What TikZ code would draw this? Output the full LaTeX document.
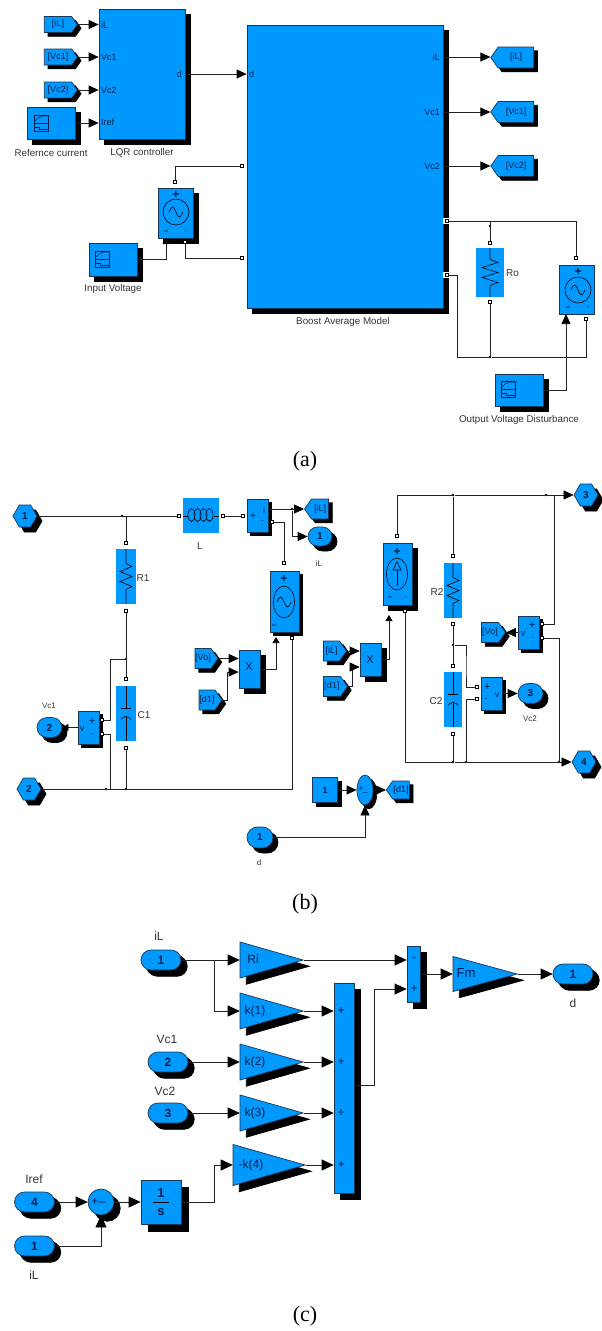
\documentclass[tikz,border=0pt]{standalone}
\usepackage{fontspec}
\setmainfont{Liberation Sans}
\newfontfamily\capfont{Liberation Serif}
\usetikzlibrary{arrows.meta,shapes.geometric,shapes.misc,shapes.symbols}
\definecolor{simblue}{RGB}{0,153,255}
\definecolor{simtext}{RGB}{0,30,70}
\definecolor{simedge}{RGB}{25,55,85}
\definecolor{simwire}{RGB}{35,35,35}
\tikzset{
  offset/.style={preaction={draw=black,fill=black,transform canvas={xshift=1.25*#1pt,yshift=-1.25*#1pt}}},
  blockbox/.style={draw=simedge,line width=.7pt,fill=simblue,inner sep=0pt,text=simtext,font=\fontsize{9}{10}\selectfont},
  plainbox/.style={fill=simblue,inner sep=0pt},
  tagright/.style={blockbox,signal,signal to=east,signal pointer angle=110,offset=3},
  tagleft/.style={blockbox,signal,signal to=west,signal pointer angle=110,offset=3},
  hexport/.style={blockbox,signal,signal to=east and west,signal pointer angle=120,minimum width=24,minimum height=22,offset=4,font=\fontsize{10}{11}\selectfont\bfseries},
  roundport/.style={blockbox,rounded rectangle,offset=4,font=\fontsize{10}{11}\selectfont\bfseries},
  bigport/.style={roundport,minimum width=40,minimum height=20,offset=5,font=\fontsize{12}{13}\selectfont\bfseries},
  gainbox/.style={blockbox,isosceles triangle,isosceles triangle stretches,anchor=apex,offset=5},
  portbox/.style={draw=black,fill=white,line width=.6pt,minimum size=3pt,inner sep=0pt},
  gapbox/.style={fill=white,minimum size=6pt,inner sep=0pt},
  dotnode/.style={circle,fill=black,minimum size=2.6pt,inner sep=0pt},
  blocktext/.style={inner sep=0pt,text=simtext,font=\fontsize{9}{10}\selectfont},
  signtext/.style={inner sep=0pt,text=simtext,font=\fontsize{11}{12}\selectfont},
  tinytext/.style={inner sep=0pt,text=simtext,font=\fontsize{4}{4}\selectfont},
  bigtext/.style={inner sep=0pt,text=simtext,font=\fontsize{12}{13}\selectfont},
  nametext/.style={inner sep=0pt,text=black!80,font=\fontsize{9.8}{11}\selectfont},
  smallname/.style={inner sep=0pt,text=black!80,font=\fontsize{8}{9}\selectfont},
  sidetext/.style={inner sep=0pt,text=black!80,font=\fontsize{10}{12}\selectfont},
  largename/.style={inner sep=0pt,text=black!80,font=\fontsize{12}{13}\selectfont},
  captext/.style={inner sep=0pt,font=\fontsize{22}{24}\capfont},
  wire/.style={draw=simwire,line width=.7pt},
  icon/.style={draw=black,line width=.6pt},
  smalltip/.style={-{Triangle[length=6pt,width=7pt,black]}},
  bigtip/.style={-{Triangle[length=12pt,width=11pt,black]}}
}
\begin{document}
\begin{tikzpicture}[x=1pt,y=-1pt,>={Triangle[length=10pt,width=9pt,black]}]
  \useasboundingbox (0,0) rectangle (602,1331);

  % (a) average model
  \node[tagright,minimum width=33,minimum height=16] (fromil) at (58,24.5) {[iL]};
  \node[tagright,minimum width=33,minimum height=16] (fromvca) at (58,57) {[Vc1]};
  \node[tagright,minimum width=33,minimum height=16] (fromvcb) at (58,90) {[Vc2]};
  \node[blockbox,offset=4,minimum width=48,minimum height=32] (refcur) at (51,123) {};
  \node[blockbox,offset=4,minimum width=86,minimum height=130] (lqr) at (142,74) {};
  \node[blockbox,offset=4,minimum width=196,minimum height=283] (boost) at (345,166.5) {};
  \node[blockbox,offset=4,minimum width=35,minimum height=50] (vin) at (175.5,213) {};
  \node[blockbox,offset=4,minimum width=48,minimum height=33] (inputv) at (113,259.5) {};
  \node[tagleft,minimum width=43,minimum height=21] (gotoil) at (516,57.5) {[iL]};
  \node[tagleft,minimum width=43,minimum height=21] (gotovca) at (516,112) {[Vc1]};
  \node[tagleft,minimum width=43,minimum height=21] (gotovcb) at (516,166) {[Vc2]};
  \node[plainbox,minimum width=28,minimum height=49] (ro) at (490,272.5) {};
  \node[blockbox,minimum width=35,minimum height=49] (vout) at (576.5,289.5) {};
  \node[blockbox,offset=4,minimum width=48,minimum height=32] (outdist) at (519,390) {};

  \node[blocktext,right] (lqril) at (101,25) {iL};
  \node[blocktext,right] (lqrvca) at (101,57) {Vc1};
  \node[blocktext,right] (lqrvcb) at (101,90) {Vc2};
  \node[blocktext,right] (lqrref) at (101,122) {Iref};
  \node[blocktext,left] (lqrd) at (182,74) {d};
  \node[blocktext,right] (boostd) at (249,74) {d};
  \node[blocktext,left] (boostil) at (440,57) {iL};
  \node[blocktext,left] (boostvca) at (440,112) {Vc1};
  \node[blocktext,left] (boostvcb) at (440,166) {Vc2};
  \node[nametext] (namecur) at (51,153) {Refernce current};
  \node[nametext] (namelqr) at (142,153) {LQR controller};
  \node[nametext] (namevin) at (113,289) {Input Voltage};
  \node[nametext] (nameboost) at (343,322) {Boost Average Model};
  \node[nametext] (namedist) at (519,420) {Output Voltage Disturbance};
  \node[sidetext,right] (namero) at (506,273) {Ro};
  \node[captext] (capa) at (305,461) {(a)};

  \node[gapbox] (gapa) at (446,221) {};
  \node[gapbox] (gapb) at (446,275) {};
  \node[portbox] (bpa) at (242,166) {};
  \node[portbox] (bpb) at (242,258) {};
  \node[portbox] (bpc) at (447,221) {};
  \node[portbox] (bpd) at (447,275) {};
  \node[portbox] (vintop) at (175,182) {};
  \node[portbox] (vinbot) at (185,242) {};
  \node[portbox] (votop) at (576,258) {};
  \node[portbox] (vobot) at (586,319) {};
  \node[portbox] (rotop) at (490,243) {};
  \node[portbox] (robot) at (490,302) {};
  \node[dotnode] (dotro) at (490,226) {};
  \node[dotnode] (dotrb) at (490,357) {};
  \coordinate (vinctl) at (166,238);
  \coordinate (voctl) at (566,314);

  \draw[wire,->] (fromil.east) -- (fromil.east -| lqr.west);
  \draw[wire,->] (fromvca.east) -- (fromvca.east -| lqr.west);
  \draw[wire,->] (fromvcb.east) -- (fromvcb.east -| lqr.west);
  \draw[wire,->] (refcur.east) -- (refcur.east -| lqr.west);
  \draw[wire,->] (lqr.east) -- (boost.west |- lqr.east);
  \draw[wire,smalltip] (inputv.east) -| (vinctl);
  \draw[wire] (vintop) |- (bpa);
  \draw[wire] (vinbot) |- (bpb);
  \draw[wire,->] (boostil.east -| boost.east) -- (boostil.east -| gotoil.west);
  \draw[wire,->] (boostvca.east -| boost.east) -- (boostvca.east -| gotovca.west);
  \draw[wire,->] (boostvcb.east -| boost.east) -- (boostvcb.east -| gotovcb.west);
  \draw[wire] (bpc) -| (votop);
  \draw[wire] (dotro |- bpc) -- (rotop);
  \draw[wire] (robot) -- (dotrb);
  \draw[wire] (bpd) -- ++(10,0) |- (dotrb);
  \draw[wire] (dotrb) -| (vobot);
  \draw[wire,->] (outdist.east) -| (voctl);

  % signal builder icons
  \foreach \ox/\oy in {34/115,95/251,501/381}{
    \begin{scope}[shift={(\ox,\oy)}]
      \draw[icon,draw=simtext] (0,0) rectangle (14,16);
      \draw[icon,draw=simtext] (0,8) -- (14,8);
      \draw[icon,draw=simtext] (0,7) -- (4,3) -- (9,1) -- (14,1);
      \draw[icon,draw=simtext] (0,12) -- (5,12) -- (5,14.5) -- (14,14.5);
    \end{scope}
  }

  % (b) converter circuit
  \node[hexport] (ina) at (25,516) {1};
  \node[hexport] (inb) at (29,789) {2};
  \node[plainbox,minimum width=36,minimum height=35] (ind) at (201,515.5) {};
  \node[plainbox,minimum width=20,minimum height=55] (ra) at (126,576.5) {};
  \node[plainbox,minimum width=20,minimum height=55] (ca) at (126,713.5) {};
  \node[blockbox,offset=3,minimum width=21,minimum height=33] (ammeter) at (257.5,515.5) {};
  \node[blockbox,offset=3,minimum width=21,minimum height=33] (vmetera) at (88.5,727.5) {};
  \node[roundport,minimum width=25,minimum height=20] (outvca) at (49.5,727.5) {2};
  \node[blockbox,offset=3,minimum width=29,minimum height=61] (vsrc) at (284.5,601.5) {};
  \node[blockbox,offset=4,minimum width=21,minimum height=38] (mula) at (249.5,669) {};
  \node[tagright,minimum width=23,minimum height=20] (fromvoa) at (203,658.5) {[Vo]};
  \node[tagright,minimum width=23,minimum height=20] (fromdb) at (207,700) {[d1]};
  \node[tagleft,minimum width=24,minimum height=20] (gotoilb) at (320,509) {[iL]};
  \node[roundport,minimum width=24,minimum height=19] (outil) at (320,536.5) {1};
  \node[blockbox,offset=4,minimum width=29,minimum height=62] (isrc) at (397.5,574) {};
  \node[plainbox,minimum width=18,minimum height=55] (rb) at (453,590.5) {};
  \node[plainbox,minimum width=18,minimum height=55] (cb) at (453,699.5) {};
  \node[blockbox,offset=4,minimum width=21,minimum height=33] (mulb) at (370.5,659.5) {};
  \node[tagright,minimum width=23,minimum height=20] (fromilb) at (331.5,651) {[iL]};
  \node[tagright,minimum width=24,minimum height=20] (fromdc) at (332,686.5) {[d1]};
  \node[blockbox,offset=3,minimum width=21,minimum height=33] (vmeterb) at (491.5,693.5) {};
  \node[roundport,minimum width=25,minimum height=20] (outvcb) at (530.5,693.5) {3};
  \node[blockbox,offset=3,minimum width=21,minimum height=33] (vmeterc) at (528.5,632.5) {};
  \node[tagright,minimum width=24,minimum height=20] (fromvob) at (490,632.5) {[Vo]};
  \node[hexport] (outc) at (586,495) {3};
  \node[hexport] (outd) at (584,762) {4};
  \node[blockbox,offset=3,minimum width=25,minimum height=25] (const) at (325,790) {\bfseries 1};
  \node[blockbox,ellipse,offset=3,minimum width=16,minimum height=30] (suma) at (365,790) {};
  \node[tagleft,minimum width=23,minimum height=18] (gotod) at (401,790) {[d1]};
  \node[roundport,minimum width=26,minimum height=21] (dport) at (260,837.5) {1};

  \node[signtext] (xa) at (249,667) {X};
  \node[signtext] (xb) at (370,660) {X};
  \node[blocktext] (avm) at (82,729) {v};
  \node[signtext] (apl) at (92,721) {+};
  \node[blocktext] (ami) at (92,735) {-};
  \node[signtext] (ampl) at (253,516) {+};
  \node[blocktext] (amc) at (264,510) {i};
  \node[blocktext] (ammi) at (262,522) {-};
  \node[signtext] (bpl) at (487,687) {+};
  \node[blocktext] (bmi) at (486,700) {-};
  \node[blocktext] (bvm) at (497,695) {v};
  \node[signtext] (cpl) at (532,625) {+};
  \node[blocktext] (cmi) at (533,639) {-};
  \node[blocktext] (cvm) at (523,634) {v};
  \node[blocktext] (spl) at (361,789) {+};
  \node[blocktext] (smi) at (365,792) {\_};
  \node[sidetext] (namera) at (143,578) {R1};
  \node[sidetext] (nameca) at (144,715) {C1};
  \node[sidetext] (namerb) at (437,592) {R2};
  \node[sidetext] (namecb) at (436,701) {C2};
  \node[sidetext] (nameind) at (200,546) {L};
  \node[smallname] (namevca) at (49,706) {Vc1};
  \node[smallname] (namevcb) at (530,719) {Vc2};
  \node[smallname] (nameil) at (319,564) {iL};
  \node[smallname] (named) at (259,863) {d};
  \node[captext] (capb) at (305,904) {(b)};

  \node[portbox] (indl) at (179,516) {};
  \node[portbox] (indr) at (223,516) {};
  \node[portbox] (ampin) at (243,516) {};
  \node[portbox] (ampout) at (272,522) {};
  \node[portbox] (vsrctop) at (284,563) {};
  \node[portbox] (vsrcbot) at (292,638) {};
  \node[portbox] (ratop) at (126,543) {};
  \node[portbox] (rabot) at (126,611) {};
  \node[portbox] (catop) at (126,679) {};
  \node[portbox] (cabot) at (126,748) {};
  \node[portbox] (vmaplus) at (102,720) {};
  \node[portbox] (vmaminus) at (102,734) {};
  \node[portbox] (isrctop) at (397,536) {};
  \node[portbox] (isrcbot) at (405,611) {};
  \node[portbox] (rbtop) at (453,556) {};
  \node[portbox] (rbbot) at (453,624) {};
  \node[portbox] (cbtop) at (453,666) {};
  \node[portbox] (cbbot) at (453,734) {};
  \node[portbox] (vmbplus) at (477,687) {};
  \node[portbox] (vmbminus) at (477,699) {};
  \node[portbox] (vmcplus) at (542,624) {};
  \node[portbox] (vmcminus) at (542,638) {};
  \node[dotnode] (dota) at (122,516) {};
  \node[dotnode] (dotb) at (126,659) {};
  \node[dotnode] (dotc) at (106,789) {};
  \node[dotnode] (dotd) at (126,789) {};
  \node[dotnode] (dote) at (292,509) {};
  \node[dotnode] (dotf) at (453,495) {};
  \node[dotnode] (dotg) at (546,495) {};
  \node[dotnode] (doth) at (453,645) {};
  \node[dotnode] (doti) at (453,762) {};
  \node[dotnode] (dotj) at (466,762) {};
  \node[dotnode] (dotk) at (559,762) {};
  \coordinate (vsrcctl) at (276,637);
  \coordinate (isrcctl) at (389,615);

  \draw[wire] (ina.east) -- (indl);
  \draw[wire] (ratop |- indl) -- (ratop);
  \draw[wire] (rabot) -- (catop);
  \draw[wire] (cabot) -- (dotd);
  \draw[wire] (dotb) -- ++(-16,0) |- (vmaplus);
  \draw[wire] (vmaminus) -- ++(8,0) |- (dotd);
  \draw[wire] (inb.east) -| (vsrcbot);
  \draw[wire,smalltip] (vmetera.west) -- (outvca.east);
  \draw[wire] (indr) -- (ampin);
  \draw[wire] (ampout) -| (vsrctop);
  \draw[wire,->] (ammeter.east |- dote) -- (gotoilb.west);
  \draw[wire,->] (dote) |- (outil.west);
  \draw[wire,->] (fromvoa.east) -- (fromvoa.east -| mula.west);
  \draw[wire,->] (fromdb.east) -- ++(5,0) |- (mula.west |- 0,672);
  \draw[wire,smalltip] (mula.east) -| (vsrcctl);
  \draw[wire] (isrctop) |- (dotf);
  \draw[wire,->] (dotf) -- (outc.west);
  \draw[wire] (dotf) -- (rbtop);
  \draw[wire] (rbbot) -- (cbtop);
  \draw[wire] (cbbot) -- (doti);
  \draw[wire] (isrcbot) |- (doti);
  \draw[wire,->] (doti) -- (outd.west);
  \draw[wire] (doth) -| (466,666) |- (vmbplus);
  \draw[wire] (vmbminus) -| (dotj);
  \draw[wire,->] (vmeterb.east) -- (outvcb.west);
  \draw[wire,->] (vmeterc.west) -- (fromvob.east);
  \draw[wire] (vmcplus) -| (554,495);
  \draw[wire] (vmcminus) -| (dotk);
  \draw[wire,->] (fromilb.east) -- (fromilb.east -| mulb.west);
  \draw[wire,->] (fromdc.east) -- ++(4,0) |- (mulb.west |- 0,667);
  \draw[wire,smalltip] (mulb.east) -| (isrcctl);
  \draw[wire,->] (const.east) -- (suma.west);
  \draw[wire,->] (suma.east) -- (gotod.west);
  \draw[wire,->] (dport.east) -| (suma.south);

  % sources
  \foreach \cx/\cy/\rx/\ry/\ty/\by in {176/212/13/13/195/231,578/290/13/13/272/307,284/602/10.5/16/579/625}{
    \begin{scope}[shift={(\cx,\cy)}]
      \draw[icon] (0,0) ellipse ({\rx} and {\ry});
      \draw[icon] (-7,0) sin (-3.5,-5) cos (0,0) sin (3.5,5) cos (7,0);
    \end{scope}
    \node[signtext,font=\fontsize{12}{13}\selectfont\bfseries] (plus\cx) at (\cx,\ty) {+};
    \node[tinytext] (un\cx) at (\cx-10,\by) {un};
    \node[tinytext] (eye\cx) at (\cx+10,\by) {i};
  }
  \draw[icon] (397,574) ellipse (10.5 and 16);
  \draw[icon] (397,570) -- (397,586);
  \draw[icon] (393,570) -- (397,562) -- (401,570) -- cycle;
  \node[signtext,font=\fontsize{12}{13}\selectfont\bfseries] (isrcplus) at (397,552) {+};
  \node[tinytext] (isrcun) at (390,597) {un};
  \node[tinytext] (isrci) at (406,597) {i};

  % resistors
  \foreach \cx/\cy/\hh/\amp in {490/272.5/24.5/8,126/576.5/27.5/6,453/590.5/27.5/6}{
    \begin{scope}[shift={(\cx,\cy)}]
      \draw[icon] (0,-\hh) -- (0,-13) -- (\amp,-10) -- (-\amp,-5) -- (\amp,0) -- (-\amp,5) -- (\amp,10) -- (0,13) -- (0,\hh);
    \end{scope}
  }
  % capacitors
  \foreach \cx/\cy in {126/713.5,453/699.5}{
    \begin{scope}[shift={(\cx,\cy)}]
      \draw[icon] (0,-27.5) -- (0,-5);
      \draw[icon] (-5,-5) -- (5,-5);
      \draw[icon] (-5,6) .. controls (-3,2) and (3,2) .. (5,6);
      \draw[icon] (0,3) -- (0,27.5);
    \end{scope}
  }
  % inductor
  \draw[icon] (183,516) -- (188,516);
  \draw[icon] (214,516) -- (219,516);
  \foreach \cx in {191.5,197.5,203.5,209.5}
    \draw[icon] (\cx,515) ellipse (3.5 and 6.5);

  % (c) controller
  \node[bigport] (iila) at (161,960) {1};
  \node[bigport] (ivca) at (168,1062) {2};
  \node[bigport] (ivcb) at (168,1113) {3};
  \node[bigport] (iref) at (34.5,1202) {4};
  \node[bigport] (iilb) at (34.5,1246) {1};
  \node[blockbox,circle,offset=5,minimum size=26] (sumb) at (101,1202) {};
  \node[blockbox,offset=6,minimum width=40,minimum height=44] (integ) at (161,1202) {};
  \node[gainbox,minimum width=36,minimum height=63] (gri) at (304,960) {};
  \node[gainbox,minimum width=36,minimum height=63] (gka) at (304,1011) {};
  \node[gainbox,minimum width=36,minimum height=63] (gkb) at (304,1062) {};
  \node[gainbox,minimum width=36,minimum height=63] (gkc) at (304,1113) {};
  \node[gainbox,minimum width=41,minimum height=72] (gkd) at (306,1165) {};
  \node[blockbox,offset=5,minimum width=20,minimum height=210] (bigsum) at (344,1088) {};
  \node[blockbox,offset=5,minimum width=13,minimum height=56] (sumc) at (413.5,974) {};
  \node[gainbox,minimum width=35,minimum height=64] (gfm) at (518,974) {};
  \node[bigport] (outdd) at (573,974) {1};

  \node[bigtext] (tri) at (253,959) {Ri};
  \node[bigtext] (tka) at (255,1011) {k(1)};
  \node[bigtext] (tkb) at (255,1062) {k(2)};
  \node[bigtext] (tkc) at (255,1113) {k(3)};
  \node[bigtext] (tkd) at (251,1165) {-k(4)};
  \node[bigtext,font=\fontsize{13}{14}\selectfont] (tfm) at (466,973) {Fm};
  \node[bigtext,font=\fontsize{13}{14}\selectfont] (tone) at (161,1193) {\bfseries 1};
  \node[bigtext,font=\fontsize{13}{14}\selectfont] (tess) at (161,1212) {\bfseries s};
  \draw[icon] (153,1202) -- (169,1202);
  \node[bigtext] (tspl) at (95,1202) {+};
  \node[bigtext] (tsmi) at (102,1202) {\_};
  \node[bigtext] (tcmi) at (414,960) {-};
  \node[bigtext] (tcpl) at (414,989) {+};
  \foreach \sy/\sn in {1011/a,1062/b,1113/c,1165/d}
    \node[bigtext] (plus\sn) at (341,\sy) {+};
  \node[largename] (nila) at (159,936) {iL};
  \node[largename] (nvca) at (167,1039) {Vc1};
  \node[largename] (nvcb) at (165,1091) {Vc2};
  \node[largename] (nref) at (34,1179) {Iref};
  \node[largename] (nilb) at (34,1275) {iL};
  \node[largename] (ndd) at (573,1003) {d};
  \node[captext] (capc) at (305,1316) {(c)};

  \coordinate (branch) at (214,960);
  \draw[wire,bigtip] (iila.east) -- (gri.lower side);
  \draw[wire,bigtip] (branch) |- (gka.lower side);
  \draw[wire,bigtip] (ivca.east) -- (gkb.lower side);
  \draw[wire,bigtip] (ivcb.east) -- (gkc.lower side);
  \draw[wire,bigtip] (gka.apex) -- (bigsum.west |- gka.apex);
  \draw[wire,bigtip] (gkb.apex) -- (bigsum.west |- gkb.apex);
  \draw[wire,bigtip] (gkc.apex) -- (bigsum.west |- gkc.apex);
  \draw[wire,bigtip] (gkd.apex) -- (bigsum.west |- gkd.apex);
  \draw[wire,bigtip] (gri.apex) -- (sumc.west |- gri.apex);
  \draw[wire,bigtip] (bigsum.east) ++(0,-3) -- (374,1085) |- (sumc.west |- tcpl);
  \draw[wire,bigtip] (sumc.east) -- (gfm.lower side);
  \draw[wire,bigtip] (gfm.apex) -- (outdd.west);
  \draw[wire,bigtip] (iref.east) -- (sumb.west);
  \draw[wire,bigtip] (sumb.east) -- (integ.west);
  \draw[wire,bigtip] (integ.east) -- ++(33,0) |- (gkd.lower side);
  \draw[wire,bigtip] (iilb.east) -| (sumb.south);
\end{tikzpicture}
\end{document}
